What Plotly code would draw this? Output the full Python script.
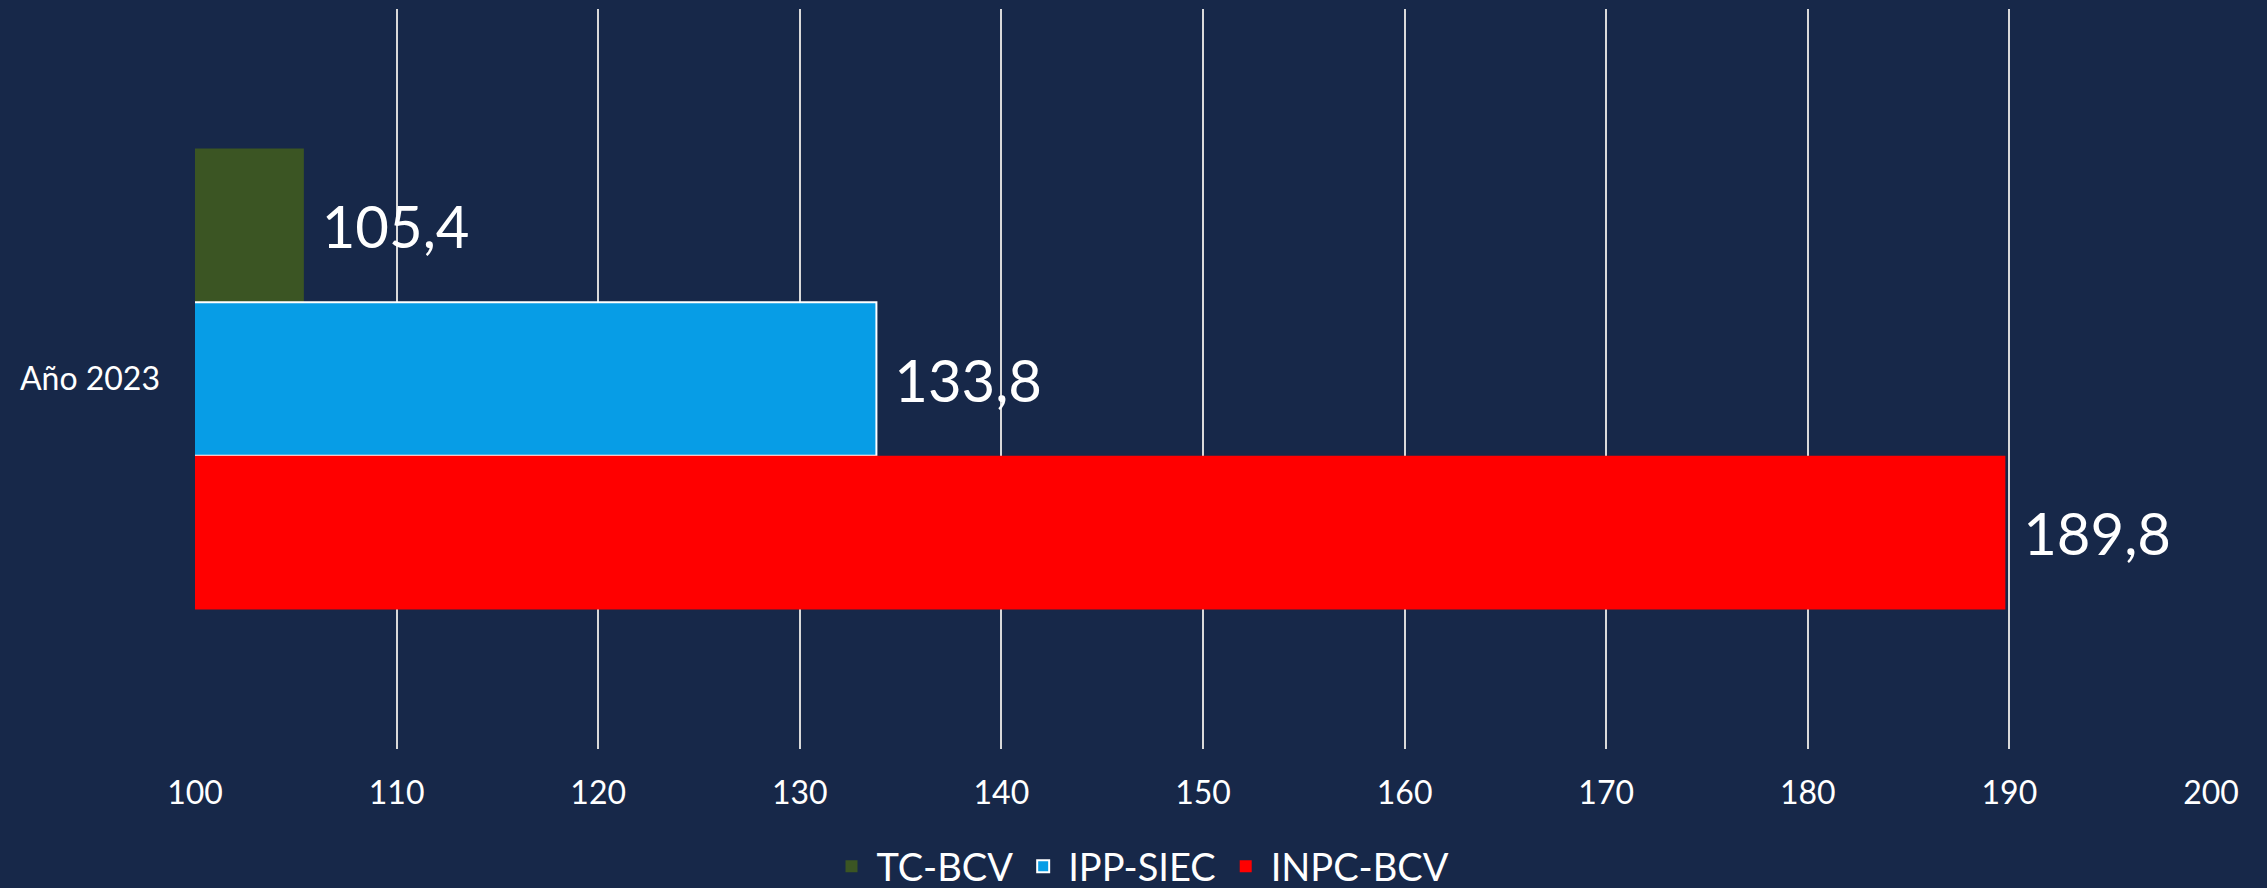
import plotly.graph_objects as go

categoria = ["Año 2023"]
series = ["TC-BCV", "IPP-SIEC", "INPC-BCV"]
valores = [[105.4], [133.8], [189.8]]
colores = ["#3B5523", "#079DE6", "#FF0000"]
x_ticks = [100, 110, 120, 130, 140, 150, 160, 170, 180, 190, 200]

FONDO = "#172849"
FUENTE = "Lato"

fig = go.Figure()
for nombre, vals, color in zip(series, valores, colores):
    borde = dict(color="white", width=2) if nombre == "IPP-SIEC" else dict(width=0)
    fig.add_trace(go.Bar(
        y=categoria, x=vals, name=nombre, orientation="h",
        marker=dict(color=color, line=borde),
        texttemplate="\u00a0%{x:.1f}", textposition="outside",
        textfont=dict(size=58, color="white", family=FUENTE),
        cliponaxis=False,
    ))

fig.update_layout(
    width=2267, height=888,
    paper_bgcolor=FONDO, plot_bgcolor=FONDO,
    separators=",.",
    barmode="group", bargap=0.377, bargroupgap=0,
    margin=dict(l=195, r=56, t=9, b=139, autoexpand=False),
    font=dict(family=FUENTE, color="white", size=32),
    showlegend=True,
    legend=dict(orientation="h", x=0.469, xanchor="center", y=-0.159, yanchor="middle",
                font=dict(size=38, color="white"), bgcolor="rgba(0,0,0,0)",
                itemwidth=40, tracegroupgap=0),
)
fig.update_xaxes(range=[100, 200], tickvals=x_ticks, showgrid=True, gridcolor="#D9D9D9",
                 gridwidth=2, zeroline=False, showline=False, ticks="",
                 tickfont=dict(size=32, color="white"), ticklabelstandoff=22)
fig.update_yaxes(autorange="reversed", showgrid=False, zeroline=False, showline=False,
                 ticks="", tickfont=dict(size=32, color="white"), ticklabelstandoff=34)

fig.write_html("out.html", config={"displayModeBar": False},
               post_script="document.body.style.margin='0';")
